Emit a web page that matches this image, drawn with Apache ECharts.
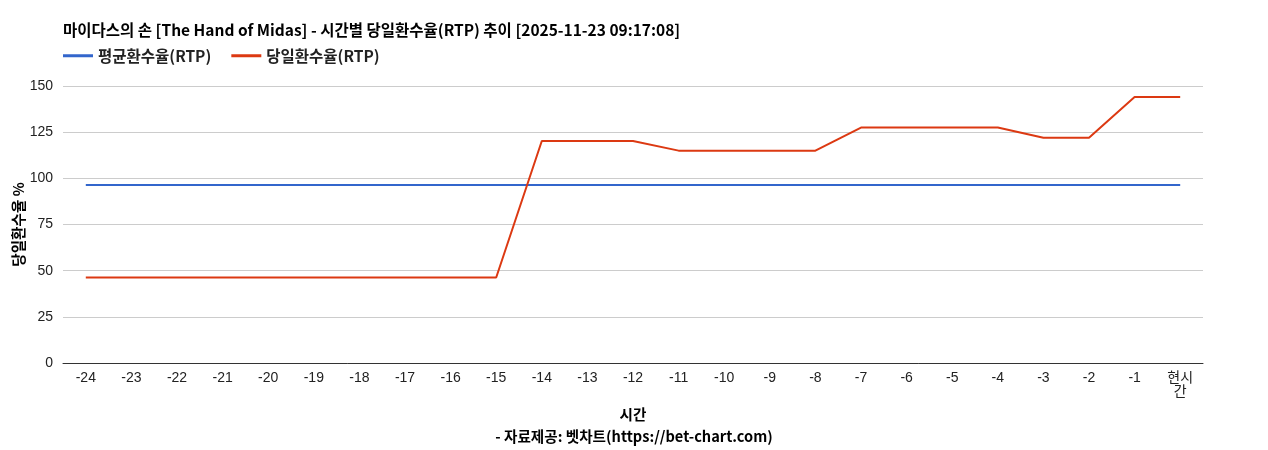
<!DOCTYPE html>
<html>
<head>
<meta charset="utf-8">
<script src="https://cdn.jsdelivr.net/npm/echarts@6/dist/echarts.min.js"></script>
<style>
html, body { margin: 0; padding: 0; background: #fff; }
#chart { width: 1268px; height: 450px; }
</style>
</head>
<body>
<div id="chart"></div>
<script>
var hours = ['-24', '-23', '-22', '-21', '-20', '-19', '-18', '-17', '-16', '-15', '-14', '-13', '-12',
	'-11', '-10', '-9', '-8', '-7', '-6', '-5', '-4', '-3', '-2', '-1', '현시간'];
var avgRtp = [96.4, 96.4, 96.4, 96.4, 96.4, 96.4, 96.4, 96.4, 96.4, 96.4, 96.4, 96.4, 96.4,
	96.4, 96.4, 96.4, 96.4, 96.4, 96.4, 96.4, 96.4, 96.4, 96.4, 96.4, 96.4];
var dayRtp = [46.3, 46.3, 46.3, 46.3, 46.3, 46.3, 46.3, 46.3, 46.3, 46.3, 120.2, 120.2, 120.2,
	115.0, 115.0, 115.0, 115.0, 127.5, 127.5, 127.5, 127.5, 122.0, 122.0, 144.0, 144.0];
var yTicks = [0, 25, 50, 75, 100, 125, 150];

var font = 'Liberation Sans, Arial, "Noto Sans CJK KR", sans-serif';
var boldFont = '"Noto Sans CJK KR", sans-serif';
var myChart = echarts.init(document.getElementById('chart'));
var option = {
	animation : false,
	textStyle : { fontFamily : font },
	title : [ {
		text : '마이다스의 손 [The Hand of Midas] - 시간별 당일환수율(RTP) 추이 [2025-11-23 09:17:08]',
		left : 58,
		top : 17,
		textStyle : { fontSize : 15.5, fontWeight : 'bold', color : '#000', fontFamily : boldFont }
	}, {
		text : '- 자료제공: 벳차트(https://bet-chart.com)',
		left : 'center',
		top : 424,
		textStyle : { fontSize : 14.6, fontWeight : 'bold', color : '#000', fontFamily : boldFont }
	} ],
	legend : {
		left : 58,
		top : 43,
		itemWidth : 30,
		itemHeight : 3,
		itemGap : 20,
		icon : 'rect',
		textStyle : { fontSize : 15.5, fontWeight : 'bold', color : '#222', fontFamily : boldFont },
		data : [ '평균환수율(RTP)', '당일환수율(RTP)' ]
	},
	grid : { left : 63, right : 65, top : 86, bottom : 87, outerBoundsMode : 'none', containLabel : false },
	xAxis : {
		type : 'category',
		data : hours,
		boundaryGap : true,
		name : '시간',
		nameLocation : 'middle',
		nameGap : 44,
		nameTextStyle : { fontSize : 14.6, fontWeight : 'bold', color : '#000', fontFamily : boldFont },
		axisLine : { lineStyle : { color : '#333' } },
		axisTick : { show : false },
		axisLabel : {
			interval : 0,
			fontSize : 14,
			color : '#222',
			margin : 8,
			formatter : function(v) { return v === '현시간' ? '현시\n간' : v; }
		}
	},
	yAxis : {
		type : 'value',
		min : yTicks[0],
		max : yTicks[yTicks.length - 1],
		interval : 25,
		name : '당일환수율 %',
		nameLocation : 'middle',
		nameGap : 37,
		nameRotate : 90,
		nameMoveOverlap : false,
		nameTextStyle : { fontSize : 14.6, fontWeight : 'bold', color : '#000', fontFamily : boldFont },
		axisLine : { show : false },
		axisTick : { show : false },
		axisLabel : { fontSize : 14, color : '#222', margin : 10 },
		splitLine : { lineStyle : { color : '#ccc' } }
	},
	series : [ {
		name : '평균환수율(RTP)',
		type : 'line',
		data : avgRtp,
		symbol : 'none',
		color : '#3366cc',
		lineStyle : { width : 2 }
	}, {
		name : '당일환수율(RTP)',
		type : 'line',
		data : dayRtp,
		symbol : 'none',
		color : '#dc3912',
		lineStyle : { width : 2 }
	} ]
};
myChart.setOption(option);
</script>
</body>
</html>
